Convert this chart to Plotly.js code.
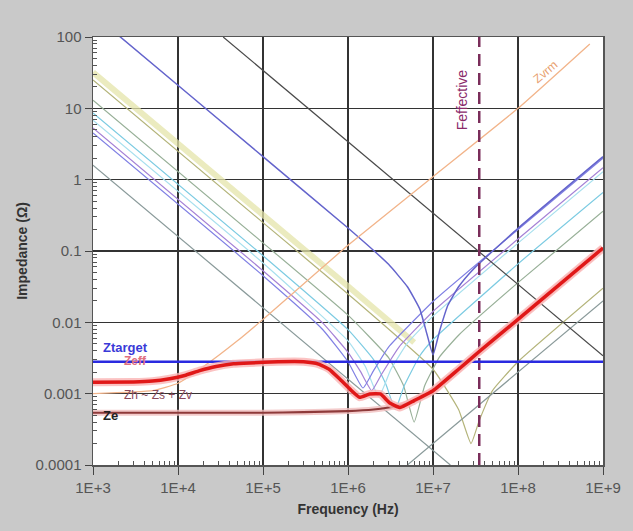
<!DOCTYPE html>
<html><head><meta charset="utf-8">
<script src="https://cdn.plot.ly/plotly-3.0.1.min.js"></script>
<style>html,body{margin:0;padding:0;background:#c9c9c9;}#chart{width:633px;height:531px;}</style>
</head><body><div id="chart"></div>
<script>
// ---- data (frequency in Hz, impedance in ohm) ----
const xTickVals = [1e3, 1e4, 1e5, 1e6, 1e7, 1e8, 1e9];
const xTickText = ['1E+3','1E+4','1E+5','1E+6','1E+7','1E+8','1E+9'];
const yTickVals = [1e-4, 1e-3, 1e-2, 1e-1, 1, 10, 100];
const yTickText = ['0.0001','0.001','0.01','0.1','1','10','100'];

// slate blue capacitor (dip near 10 MHz)
const fBlue = [1e3, 2e3, 1e5, 1e6, 3e6, 5e6, 7e6, 8.5e6, 1e7, 1.2e7, 1.5e7, 2e7, 3e7, 1e8, 1e9];
const zBlue = [210, 105, 2.1, 0.21, 0.065, 0.0315, 0.0153, 0.0068, 0.0035, 0.0077, 0.0175, 0.0315, 0.056, 0.208, 2.1];
// black capacitor line
const fBlack = [3.4e4, 1e9];
const zBlack = [100, 0.0034];
// khaki wide band
const fKhaki = [1e3, 1e5, 1e6, 6e6];
const zKhaki = [32, 0.32, 0.032, 0.0052];
// olive thin line (dip near 28 MHz)
const fOlive = [1e3, 1e5, 1e6, 1e7, 2e7, 2.8e7, 3.5e7, 5e7, 1e8, 1e9];
const zOlive = [25, 0.25, 0.025, 0.0022, 0.0006, 0.0002, 0.00042, 0.0011, 0.0028, 0.03];
// gray-green capacitor
const fGreen = [1e3, 1e5, 1e6, 3e6, 4.5e6, 6e6, 8e6, 1.2e7, 2e7, 1e8, 1e9];
const zGreen = [13, 0.13, 0.0126, 0.0032, 0.0013, 0.0004, 0.0013, 0.0033, 0.0066, 0.036, 0.36];
// cyan capacitor
const fCyan = [1e3, 1e5, 1e6, 2e6, 2.8e6, 3.6e6, 4.6e6, 7e6, 1e7, 1e8, 1e9];
const zCyan = [8.6, 0.086, 0.0079, 0.003, 0.00134, 0.0006, 0.0013, 0.0034, 0.0057, 0.066, 0.66];
// light cyan capacitor
const fLtCyan = [1e3, 1e5, 1e6, 1.6e6, 2.3e6, 3.2e6, 5e6, 1e7, 1e8, 1e9];
const zLtCyan = [6.8, 0.068, 0.0055, 0.0024, 0.0009, 0.0022, 0.0051, 0.0122, 0.129, 1.29];
// purple capacitor
const fPurple = [1e3, 1e5, 5e5, 1e6, 1.4e6, 1.9e6, 2.5e6, 4e6, 1e7, 1e8, 1e9];
const zPurple = [5.3, 0.053, 0.0099, 0.0038, 0.00205, 0.0011, 0.0019, 0.00454, 0.0142, 0.147, 1.47];
// violet capacitor
const fViolet = [1e3, 1e5, 5e5, 1e6, 1.5e6, 2e6, 3e6, 1e7, 1e8, 1e9];
const zViolet = [4.5, 0.045, 0.008, 0.0028, 0.0012, 0.0021, 0.0045, 0.0196, 0.2, 2.0];
// gray capacitance and inductance asymptotes (crossing near 8.5 MHz)
const fGrayC = [1e3, 1.6e7];
const zGrayC = [1.6, 0.0001];
const fGrayL = [5e6, 1e9];
const zGrayL = [0.0001, 0.02];
// VRM impedance
const fVrm = [1e3, 5e3, 1e4, 2e4, 5e4, 1e5, 1e6, 1e7, 1e8, 7e8];
const zVrm = [0.001, 0.0011, 0.0014, 0.0024, 0.0055, 0.011, 0.12, 1.1, 10, 80];
// target impedance
const fTarget = [1e3, 1e9];
const zTarget = [0.0028, 0.0028];
// Ze (spreading + via)
const fZe = [1e3, 1e5, 3e5, 1e6, 2e6, 3e6, 4.5e6, 7e6, 1e7, 1e8, 1e9];
const zZe = [0.00054, 0.00054, 0.00055, 0.00057, 0.0006, 0.00064, 0.0007, 0.00088, 0.0011, 0.011, 0.11];
// Zeff (effective PDN impedance)
const fZeff = [1e3, 3e3, 5e3, 8e3, 1.2e4, 1.8e4, 2.8e4, 4.5e4, 7e4, 1.5e5, 3e5, 4.5e5, 6e5, 8e5, 1.06e6, 1.37e6, 1.8e6, 2.4e6, 3.1e6, 4.1e6, 6e6, 1e7, 2e7, 3.5e7, 1e8, 1e9];
const zZeff = [0.00145, 0.00146, 0.0015, 0.00162, 0.0018, 0.0021, 0.0024, 0.00262, 0.0027, 0.0028, 0.0028, 0.0026, 0.0022, 0.0016, 0.00115, 0.00089, 0.00099, 0.00099, 0.00074, 0.00064, 0.0008, 0.0011, 0.0022, 0.0039, 0.011, 0.11];
// Feffective marker
const fFeff = [3.5e7, 3.5e7];
const zFeff = [0.0001, 100];

function ln(x, y, color, width, extra) {
  return Object.assign({x: x, y: y, type: 'scatter', mode: 'lines',
    line: {color: color, width: width, shape: 'spline', smoothing: 0.4}, hoverinfo: 'skip', showlegend: false}, extra || {});
}

const traces = [
  ln(fKhaki, zKhaki, 'rgba(228,228,170,0.75)', 6),
  ln(fOlive, zOlive, '#b4b47a', 1.2),
  ln(fGreen, zGreen, '#98b098', 1.2),
  ln(fCyan, zCyan, '#7ccbe2', 1.2),
  ln(fLtCyan, zLtCyan, '#a8e0ee', 1.2),
  ln(fPurple, zPurple, '#a582d6', 1.2),
  ln(fViolet, zViolet, '#8080e4', 1.2),
  ln(fGrayC, zGrayC, '#8a9a9a', 1.2),
  ln(fGrayL, zGrayL, '#8a9a9a', 1.2),
  ln(fBlack, zBlack, '#4a4a4a', 1.2),
  ln(fBlue, zBlue, '#6464cc', 1.5),
  ln(fVrm, zVrm, '#f2b48a', 1.3),
  ln(fFeff, zFeff, '#7a2d5a', 2.5, {line: {color: '#7a2d5a', width: 2.5, dash: '12px,7px'}}),
  ln(fTarget, zTarget, '#2a2ae0', 2.5),
  ln(fZe, zZe, 'rgba(240,190,190,0.8)', 6),
  ln(fZe, zZe, '#8e3a3a', 2.2),
  ln(fZeff, zZeff, 'rgba(250,180,180,0.8)', 8),
  ln(fZeff, zZeff, '#e01818', 3.5)
];

const minorX = [];
for (let d = 3; d < 9; d++) for (let m = 2; m < 10; m++) minorX.push(m * Math.pow(10, d));
const minorY = [];
for (let d = -4; d < 2; d++) for (let m = 2; m < 10; m++) minorY.push(m * Math.pow(10, d));

const font = 'Liberation Sans, Arial, sans-serif';
const layout = {
  width: 633, height: 531,
  margin: {l: 93, r: 30, t: 37, b: 66},
  paper_bgcolor: '#c9c9c9', plot_bgcolor: '#ffffff',
  font: {family: font, size: 14, color: '#555'},
  xaxis: {type: 'log', range: [3, 9], tickmode: 'array', tickvals: xTickVals, ticktext: xTickText,
    showgrid: true, gridcolor: '#333', gridwidth: 1.5, zeroline: false,
    showline: true, linecolor: '#555', linewidth: 1.5, mirror: true,
    ticks: 'outside', ticklen: 8, tickcolor: '#444',
    minor: {tickmode: 'array', tickvals: minorX, ticks: 'inside', ticklen: 4, tickcolor: '#555', showgrid: false},
    tickfont: {family: font, size: 15, color: '#555'},
    title: {text: 'Frequency (Hz)', font: {family: font, size: 14, color: '#333', weight: 'bold'}, standoff: 9}},
  yaxis: {type: 'log', range: [-4, 2], tickmode: 'array', tickvals: yTickVals, ticktext: yTickText,
    showgrid: true, gridcolor: '#333', gridwidth: 1.5, zeroline: false,
    showline: true, linecolor: '#555', linewidth: 1.5, mirror: true,
    ticks: 'outside', ticklen: 7, tickcolor: '#444',
    minor: {tickmode: 'array', tickvals: minorY, ticks: 'inside', ticklen: 4, tickcolor: '#555', showgrid: false},
    tickfont: {family: font, size: 15, color: '#555'},
    title: {text: 'Impedance (Ω)', font: {family: font, size: 14, color: '#333', weight: 'bold'}, standoff: 4}},
  annotations: [
    {x: Math.log10(1.25e3), y: Math.log10(0.0045), xref: 'x', yref: 'y', text: '<b>Ztarget</b>', showarrow: false,
      xanchor: 'left', font: {family: font, size: 13, color: '#3a3ad8'}},
    {x: Math.log10(2.2e3), y: Math.log10(0.0029), xref: 'x', yref: 'y', text: '<b>Zeff</b>', showarrow: false,
      xanchor: 'left', font: {family: font, size: 12, color: '#e07080'}},
    {x: Math.log10(2.2e3), y: Math.log10(0.00095), xref: 'x', yref: 'y', text: 'Zh ~ Zs + Zv', showarrow: false,
      xanchor: 'left', font: {family: font, size: 12, color: '#8a4a5a'}},
    {x: Math.log10(1.25e3), y: Math.log10(0.00049), xref: 'x', yref: 'y', text: '<b>Ze</b>', showarrow: false,
      xanchor: 'left', font: {family: font, size: 13, color: '#222'}},
    {x: Math.log10(2.2e7), y: Math.log10(13), xref: 'x', yref: 'y', text: 'Feffective', showarrow: false,
      textangle: -90, font: {family: font, size: 14, color: '#8a2a6a'}},
    {x: Math.log10(2.1e8), y: Math.log10(32), xref: 'x', yref: 'y', text: 'Zvrm', showarrow: false,
      textangle: -40, font: {family: font, size: 12, color: '#e8a070'}}
  ]
};

Plotly.newPlot('chart', traces, layout, {displayModeBar: false, staticPlot: true});
</script></body></html>
